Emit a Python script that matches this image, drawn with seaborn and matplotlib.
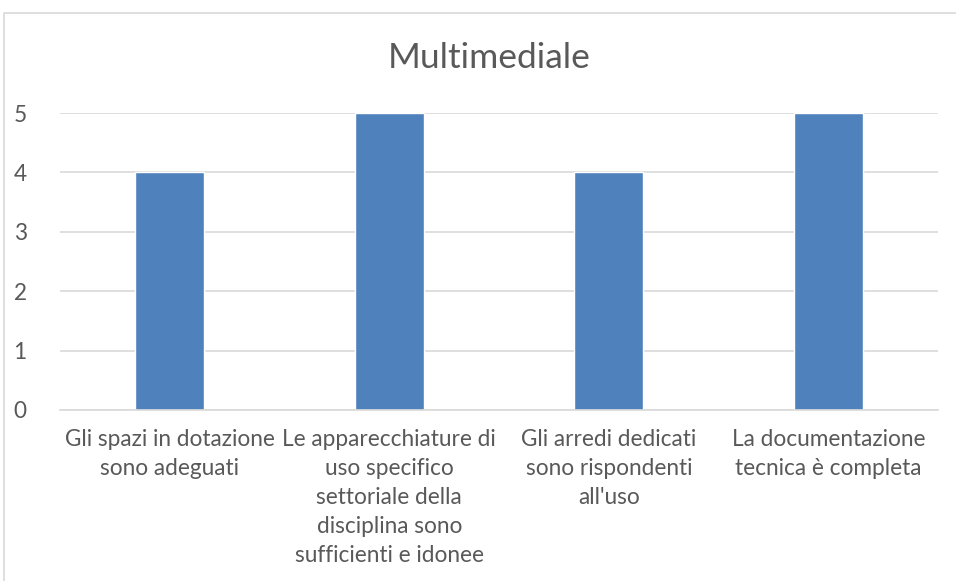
import matplotlib
matplotlib.use("Agg")
import matplotlib.pyplot as plt
import matplotlib.patches as mpatches
import seaborn as sns
import pandas as pd

# Data
categories = [
    "Gli spazi in dotazione\nsono adeguati",
    "Le apparecchiature di\nuso specifico\nsettoriale della\ndisciplina sono\nsufficienti e idonee",
    "Gli arredi dedicati\nsono rispondenti\nall'uso",
    "La documentazione\ntecnica è completa",
]
values = [4, 5, 4, 5]
yticks = [0, 1, 2, 3, 4, 5]
title = "Multimediale"

df = pd.DataFrame({"categoria": categories, "valore": values})

sns.set_theme(style="white")
plt.rcParams['font.family'] = ['Lato', 'DejaVu Sans']
text_color = "#595959"

fig = plt.figure(figsize=(9.56, 5.81), dpi=100)
ax = fig.add_axes([60 / 956, 1 - 410 / 581, 878 / 956, 297 / 581])

sns.barplot(data=df, x="categoria", y="valore", color="#4F81BD", width=0.315,
            saturation=1, ax=ax)

ax.set_ylim(0, 5)
ax.set_xlim(-0.5, len(categories) - 0.5)
ax.set_yticks(yticks)
ax.yaxis.grid(True, color="#D9D9D9", linewidth=1.2)
ax.set_axisbelow(True)
for s in ["top", "right", "left"]:
    ax.spines[s].set_visible(False)
ax.spines["bottom"].set_color("#D9D9D9")
ax.spines["bottom"].set_linewidth(1.2)
ax.tick_params(axis="both", length=0, colors=text_color, labelsize=16.3)
ax.tick_params(axis="y", pad=24)
ax.tick_params(axis="x", pad=14)
for lbl in ax.get_xticklabels():
    lbl.set_linespacing(1.47)
    lbl.set_verticalalignment("top")
ax.set_xlabel("")
ax.set_ylabel("")

fig.text(489 / 956, 1 - 58 / 581, title, ha="center", va="center",
         fontsize=25.5, color=text_color)

# chart area frame
frame = mpatches.Rectangle((4 / 956, -0.05), 960 / 956, 1 - 13 / 581 + 0.05,
                           transform=fig.transFigure, fill=False,
                           edgecolor="#D9D9D9", linewidth=1.2)
fig.patches.append(frame)

fig.savefig("out.png", dpi=100)
